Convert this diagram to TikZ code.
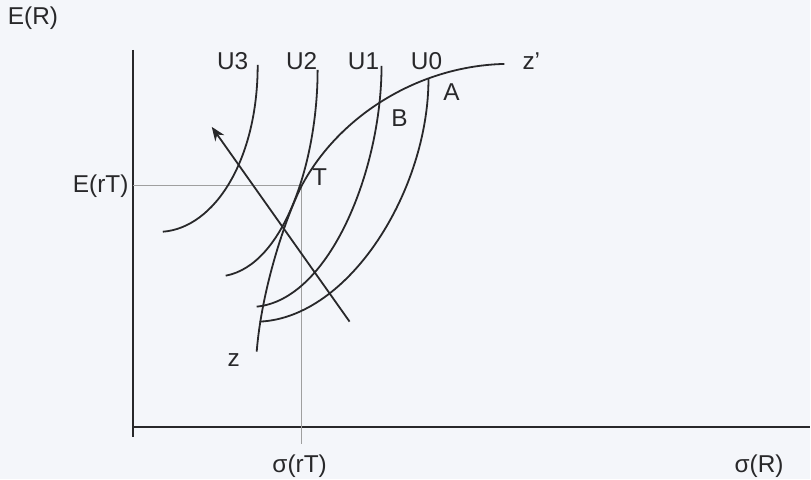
\documentclass[tikz,border=0pt]{standalone}
\usepackage{fontspec}
\setmainfont{Liberation Sans}
\usepackage{xcolor}
\usetikzlibrary{arrows.meta,positioning,calc}
\definecolor{paper}{RGB}{244,246,250}
\definecolor{ink}{RGB}{40,40,42}

\begin{document}
\begin{tikzpicture}[x=0.5pt, y=-0.5pt]
    % Define styles
    \tikzstyle{axis} = [line width=1pt, draw=ink]
    \tikzstyle{curve} = [line width=0.9pt, draw=ink]
    \tikzstyle{guide} = [line width=0.45pt, draw=gray!75]
    \tikzstyle{lbl} = [font=\fontsize{12.2}{14}\selectfont, text=ink, inner sep=1pt]

    % Paper
    \fill[paper] (0,0) rectangle (811,480);

    % Key points
    \coordinate (origin) at (133,428);
    \coordinate (T) at (302,186);
    \coordinate (zlow) at (257,352);
    \coordinate (zhigh) at (505,64);

    % Axes
    \draw[axis] (133,50) -- (133,438);
    \draw[axis] (origin) -- (811,428);

    % Guides to T
    \draw[guide] (133,186) -- (T);
    \draw[guide] (T) -- (302,445);

    % Frontier z - z'
    \draw[curve] (zlow) .. controls (262,290) and (285,220) .. (T)
                 .. controls (340,115) and (420,66) .. (zhigh);

    % Indifference curves
    \draw[curve] (163,232) .. controls (215,228) and (258,160) .. (258,65);
    \draw[curve] (226,276) .. controls (285,265) and (318,160) .. (318,70);
    \draw[curve] (257,307) .. controls (330,300) and (382,170) .. (382,66);
    \draw[curve] (260,322) .. controls (350,318) and (429,190) .. (429,79);

    % Direction of preference
    \coordinate (arrowfrom) at (350,322);
    \coordinate (arrowto) at (212,127);
    \draw[curve, -{Stealth[length=7pt, width=5.5pt]}] (arrowfrom) -- (arrowto);

    % Labels
    \node[lbl] (ER) at (33,18) {E(R)};
    \node[lbl, anchor=east] (ErT) at (131,186) {E(rT)};
    \node[lbl] (sigmarT) at (300,467) {σ(rT)};
    \node[lbl] (sigmaR) at (760,467) {σ(R)};
    \node[lbl] (U3) at (233,61) {U3};
    \node[lbl] (U2) at (302,61) {U2};
    \node[lbl] (U1) at (364,61) {U1};
    \node[lbl] (U0) at (427,61) {U0};
    \node[lbl] (zprime) at (532,61) {z'};
    \node[lbl] (z) at (234,360) {z};
    \node[lbl] (A) at (452,92) {A};
    \node[lbl] (B) at (400,118) {B};
    \node[lbl] (Tlbl) at (320,177) {T};
\end{tikzpicture}
\end{document}
